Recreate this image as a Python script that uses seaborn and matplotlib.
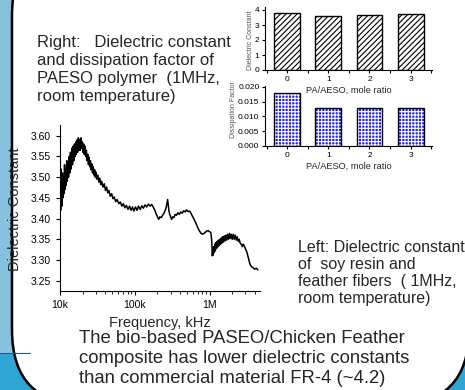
import matplotlib
matplotlib.use("Agg")
import matplotlib.pyplot as plt
import matplotlib.ticker as mticker
from matplotlib.patches import FancyBboxPatch, Rectangle
import seaborn as sns

# dielectric constant of soy resin / feather fibers: (frequency in kHz, value)
sweep = [
    (10.0, 3.45), (10.1, 3.50), (10.2, 3.42), (10.3, 3.52), (10.4, 3.44), (10.5, 3.49),
    (10.6, 3.43), (10.8, 3.51), (10.9, 3.45), (11.1, 3.50), (11.3, 3.46), (11.5, 3.53),
    (11.7, 3.47), (11.9, 3.52), (12.1, 3.48), (12.3, 3.54), (12.5, 3.49), (12.8, 3.53),
    (13.0, 3.50), (13.3, 3.55), (13.5, 3.51), (13.8, 3.56), (14.1, 3.52), (14.4, 3.57),
    (14.7, 3.53), (15.0, 3.575), (15.3, 3.54), (15.6, 3.58), (15.9, 3.55), (16.2, 3.585),
    (16.5, 3.555), (16.9, 3.59), (17.2, 3.56), (17.6, 3.595), (17.9, 3.565), (18.3, 3.59),
    (18.7, 3.565), (19.1, 3.595), (19.5, 3.57), (19.9, 3.585), (20.3, 3.56), (20.7, 3.58),
    (21.1, 3.555), (21.6, 3.575), (22.0, 3.55), (22.5, 3.565), (23.0, 3.54), (23.5, 3.555),
    (24.0, 3.53), (24.5, 3.548), (25.0, 3.525), (25.5, 3.54), (26.0, 3.518), (26.6, 3.532),
    (27.2, 3.51), (27.8, 3.525), (28.4, 3.505), (29.0, 3.518), (29.6, 3.50), (30.2, 3.512),
    (31, 3.495), (32, 3.505), (33, 3.488), (34, 3.498), (35, 3.482), (36, 3.49),
    (37.5, 3.476), (39, 3.484), (40.5, 3.468), (42, 3.476), (43.5, 3.462), (45, 3.468),
    (47, 3.454), (49, 3.46), (51, 3.448), (53, 3.452), (55.5, 3.441), (58, 3.446),
    (61, 3.436), (64, 3.44), (67, 3.43), (70, 3.436), (73.5, 3.426), (77, 3.432),
    (81, 3.422), (85, 3.43), (89, 3.42), (93, 3.428), (97, 3.418), (102, 3.428),
    (107, 3.42), (112, 3.43), (118, 3.422), (124, 3.431), (130, 3.425), (137, 3.433),
    (144, 3.428), (152, 3.435), (160, 3.43), (168, 3.434), (176, 3.428), (185, 3.42),
    (192, 3.412), (200, 3.405), (208, 3.398), (216, 3.404), (225, 3.402), (235, 3.408),
    (245, 3.413), (255, 3.42), (263, 3.428), (269, 3.438), (274, 3.446), (279, 3.435),
    (285, 3.42), (292, 3.41), (300, 3.405), (310, 3.398), (320, 3.404), (332, 3.402),
    (345, 3.41), (360, 3.408), (375, 3.414), (392, 3.41), (410, 3.416), (430, 3.413),
    (450, 3.419), (470, 3.416), (490, 3.421), (515, 3.417), (540, 3.418), (565, 3.412),
    (590, 3.405), (620, 3.398), (650, 3.39), (685, 3.38), (720, 3.372), (760, 3.365),
    (800, 3.362), (850, 3.365), (900, 3.369), (950, 3.371), (1000, 3.368), (1035, 3.366),
    (1060, 3.35), (1075, 3.33), (1085, 3.31), (1100, 3.325), (1115, 3.312), (1130, 3.332),
    (1150, 3.318), (1170, 3.338), (1190, 3.322), (1210, 3.342), (1235, 3.328), (1260, 3.345),
    (1285, 3.332), (1310, 3.348), (1340, 3.335), (1370, 3.35), (1400, 3.338), (1430, 3.353),
    (1460, 3.341), (1490, 3.356), (1530, 3.343), (1570, 3.358), (1610, 3.346), (1650, 3.36),
    (1690, 3.348), (1740, 3.362), (1790, 3.35), (1840, 3.364), (1890, 3.352), (1940, 3.362),
    (2000, 3.35), (2060, 3.362), (2120, 3.35), (2190, 3.36), (2260, 3.348), (2330, 3.356),
    (2400, 3.345), (2480, 3.35), (2560, 3.34), (2640, 3.338), (2720, 3.332), (2800, 3.338),
    (2880, 3.335), (2960, 3.33), (3050, 3.325), (3150, 3.318), (3250, 3.308), (3350, 3.298),
    (3450, 3.29), (3600, 3.284), (3800, 3.281), (4000, 3.278), (4200, 3.28), (4400, 3.276),
]
freq = [f * 1e3 for f, _ in sweep]
eps = [e for _, e in sweep]

freq_ticks = [1e4, 1e5, 1e6]
freq_labels = ["10k", "100k", "1M"]
eps_ticks = [3.25, 3.30, 3.35, 3.40, 3.45, 3.50, 3.55, 3.60]

# PAESO polymer at 1 MHz
ratio = ["0", "1", "2", "3"]
dielectric = [3.78, 3.60, 3.68, 3.72]
dissipation = [0.0181, 0.0127, 0.0128, 0.0130]

text_right = ["Right:   Dielectric constant", "and dissipation factor of",
              "PAESO polymer  (1MHz,", "room temperature)"]
text_left = ["Left: Dielectric constant", "of  soy resin and",
             "feather fibers  ( 1MHz,", "room temperature)"]
text_bottom = ["The bio-based PASEO/Chicken Feather",
               "composite has lower dielectric constants",
               "than commercial material FR-4 (~4.2)"]

W, H = 465, 390
sns.set_style("ticks")
plt.rcParams['font.family'] = ['Liberation Sans', 'DejaVu Sans']
plt.rcParams['hatch.linewidth'] = 0.8
plt.rcParams['xtick.major.size'] = 3
plt.rcParams['ytick.major.size'] = 3
plt.rcParams['xtick.minor.size'] = 2
plt.rcParams['xtick.color'] = 'black'
plt.rcParams['ytick.color'] = 'black'
plt.rcParams['axes.edgecolor'] = 'black'

fig = plt.figure(figsize=(W / 100, H / 100), dpi=100, facecolor='white')

# slide background
bg = fig.add_axes([0, 0, 1, 1], zorder=-5)
bg.set_xlim(0, W)
bg.set_ylim(H, 0)
bg.axis('off')
bg.add_patch(Rectangle((0, 0), 30, 353, color='#86c1de', lw=0))
bg.add_patch(Rectangle((0, 353), W, 40, color='#2fa5d4', lw=0))
bg.plot([0, 30], [353, 353], color='#1d5f80', lw=0.8)
bg.add_patch(FancyBboxPatch((12, -60), 457, 465, boxstyle="round,pad=0,rounding_size=75",
                            fc='white', ec='black', lw=1.8))

for i, s in enumerate(text_right):
    bg.text(37, 47 + 18 * i, s, fontsize=12, va='baseline', ha='left')
for i, s in enumerate(text_left):
    bg.text(298, 252 + 17 * i, s, fontsize=11.5, va='baseline', ha='left')
for i, s in enumerate(text_bottom):
    bg.text(79, 343 + 20 * i, s, fontsize=13.3, va='baseline', ha='left')


def px_axes(x0, y0, x1, y1):
    ax = fig.add_axes([x0 / W, 1 - y1 / H, (x1 - x0) / W, (y1 - y0) / H])
    ax.patch.set_alpha(0)
    sns.despine(ax=ax)
    return ax


# frequency sweep
ax = px_axes(60, 125, 260, 291)
sns.lineplot(x=freq, y=eps, ax=ax, color='black', lw=1.1, estimator=None, sort=False)
ax.set_xscale('log')
ax.set_xlim(1e4, 4.7e6)
ax.set_ylim(3.225, 3.626)
ax.set_xticks(freq_ticks)
ax.set_xticklabels(freq_labels)
ax.xaxis.set_minor_locator(mticker.LogLocator(base=10, subs=range(2, 10)))
ax.xaxis.set_minor_formatter(mticker.NullFormatter())
ax.set_yticks(eps_ticks)
ax.yaxis.set_major_formatter(mticker.FormatStrFormatter('%.2f'))
ax.tick_params(labelsize=7.5, width=0.8)
ax.set_xlabel("Frequency, kHz", fontsize=10.5)
ax.xaxis.set_label_coords(0.5, -0.15)
ax.set_ylabel("Dielectric Constant", fontsize=10.5)
ax.yaxis.set_label_coords(-0.19, 0.49)

# dielectric constant bars
ax2 = px_axes(265, 7, 432, 70)
sns.barplot(x=ratio, y=dielectric, ax=ax2, color='white', edgecolor='black',
            hatch='//////', linewidth=1, width=0.63, saturation=1)
ax2.set_ylim(0, 4.2)
ax2.set_yticks([0, 1, 2, 3, 4])
ax2.set_ylabel("Dielectric Constant", fontsize=5, color='#555555')
ax2.yaxis.set_label_coords(-0.068, 0.48)

# dissipation factor bars
ax3 = px_axes(265, 86, 432, 146)
sns.barplot(x=ratio, y=dissipation, ax=ax3, color='#1f1fff', edgecolor='white',
            hatch='+++++', linewidth=0, width=0.63, saturation=1)
sns.barplot(x=ratio, y=dissipation, ax=ax3, color='black', fill=False,
            linewidth=1, width=0.63)
ax3.set_ylim(0, 0.0203)
ax3.set_yticks([0, 0.005, 0.010, 0.015, 0.020])
ax3.yaxis.set_major_formatter(mticker.FormatStrFormatter('%.3f'))
ax3.set_ylabel("Dissipation Factor", fontsize=5, color='#555555')
ax3.yaxis.set_label_coords(-0.17, 0.6)

for a in (ax2, ax3):
    a.set_xlim(-0.54, 3.52)
    a.xaxis.set_minor_locator(mticker.MultipleLocator(0.5))
    a.tick_params(labelsize=6, width=0.8, length=2.5, pad=1.5)
    a.tick_params(which='minor', length=2, width=0.8)
    a.set_xlabel("PA/AESO, mole ratio", fontsize=6.7, labelpad=2)

fig.savefig("out.png", dpi=100, facecolor=fig.get_facecolor())
